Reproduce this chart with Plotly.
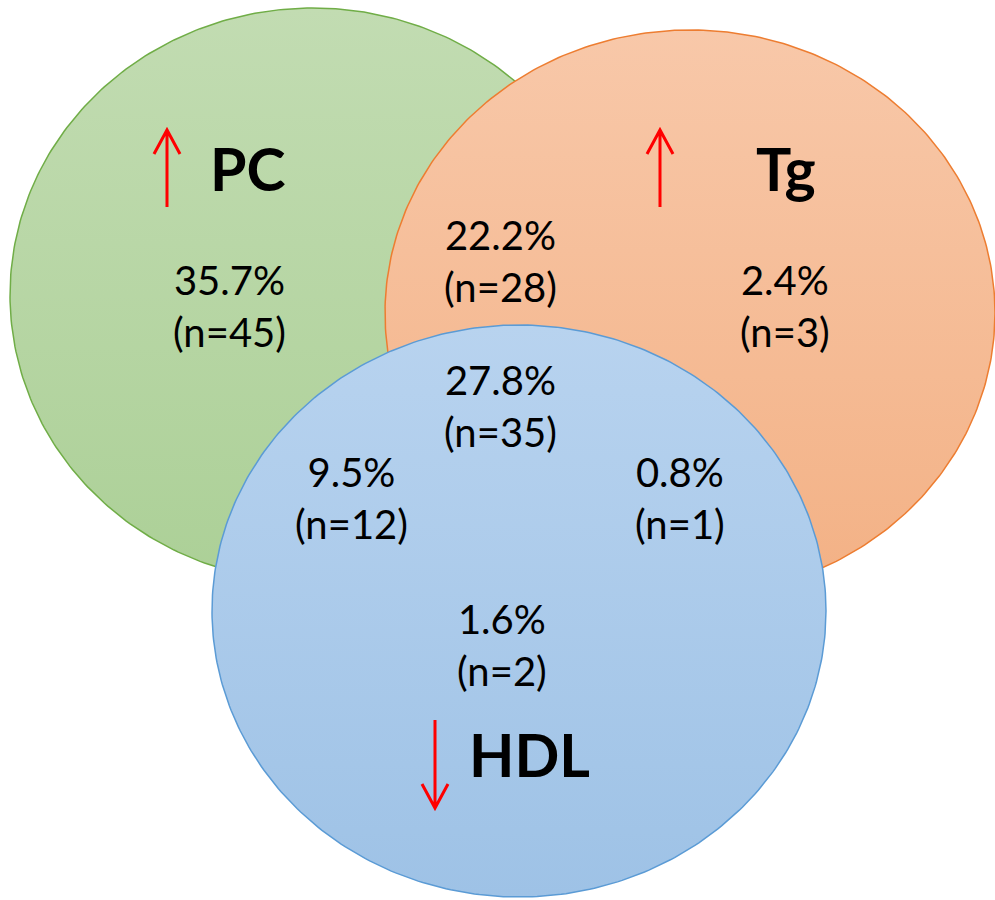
import numpy as np
import plotly.graph_objects as go

# Region values of the three-set diagram
regions = ["PC only", "PC & Tg", "Tg only", "PC & Tg & HDL", "PC & HDL", "Tg & HDL", "HDL only"]
percent = [35.7, 22.2, 2.4, 27.8, 9.5, 0.8, 1.6]
counts = [45, 28, 3, 35, 12, 1, 2]

# Set names and their direction of change
set_names = ["PC", "Tg", "HDL"]
set_direction = ["up", "up", "down"]

# ---- layout geometry (pixel space, y grows downward) ----
W, H = 995, 900
ellipses = {  # cx, cy, rx, ry
    "PC": (313, 295, 303, 287),
    "Tg": (690, 313, 305, 283),
    "HDL": (519, 611, 307, 286),
}
styles = {  # top colour, bottom colour, outline
    "PC": ("#C2DCB2", "#ACD097", "#70AD47"),
    "Tg": ("#F8C8A9", "#F3B185", "#ED7D31"),
    "HDL": ("#B8D3EF", "#9EC2E6", "#5B9BD5"),
}
region_pos = [(229, 306), (500, 261), (785, 306), (500, 406), (351, 498), (680, 498), (502, 645)]
name_pos = {"PC": (248, 168), "Tg": (786, 168), "HDL": (529, 754)}
arrow_pos = {"PC": (167, 130, 207), "Tg": (660, 130, 207), "HDL": (435, 720, 808)}

fig = go.Figure()

t = np.linspace(0, 2 * np.pi, 400)
for name in set_names:
    cx, cy, rx, ry = ellipses[name]
    top, bottom, edge = styles[name]
    fig.add_trace(go.Scatter(
        x=cx + rx * np.cos(t), y=cy + ry * np.sin(t),
        mode="lines", fill="toself",
        line=dict(color=edge, width=1.5),
        fillgradient=dict(type="vertical", start=cy - ry, stop=cy + ry,
                          colorscale=[[0, top], [1, bottom]]),
        hoverinfo="skip", showlegend=False,
    ))

# Region labels: percentage and count
for (x, y), p, n in zip(region_pos, percent, counts):
    fig.add_annotation(x=x, y=y, text=f"{p}%<br>(n={n})", showarrow=False,
                       xanchor="center", yanchor="middle",
                       font=dict(family="Lato", size=40, color="#000000"))

# Set names with direction arrows
for name, d in zip(set_names, set_direction):
    x, y = name_pos[name]
    fig.add_annotation(x=x, y=y, text=f"<b>{name}</b>", showarrow=False,
                       xanchor="center", yanchor="middle",
                       font=dict(family="Lato", size=59, color="#000000"))
    ax, y0, y1 = arrow_pos[name]
    if d == "up":
        tip, wy = y0, y0 + 24
    else:
        tip, wy = y1, y1 - 24
    path = (f"M {ax},{y0} L {ax},{y1} "
            f"M {ax - 13},{wy} L {ax},{tip} L {ax + 13},{wy}")
    fig.add_shape(type="path", path=path, xref="x", yref="y",
                  line=dict(color="#FF0000", width=3))

fig.update_layout(
    width=W, height=H, margin=dict(l=0, r=0, t=0, b=0),
    paper_bgcolor="white", plot_bgcolor="white",
    xaxis=dict(range=[0, W], visible=False, fixedrange=True),
    yaxis=dict(range=[H, 0], visible=False, fixedrange=True),
    showlegend=False,
)

fig.write_html("out.html")
